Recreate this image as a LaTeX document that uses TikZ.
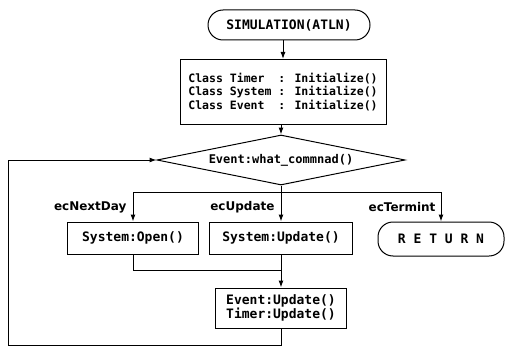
\documentclass[tikz,border=0pt]{standalone}
\usepackage{fontspec}
\setmainfont{DejaVu Sans Mono}
\newfontfamily\lblfont{DejaVu Sans}
\usetikzlibrary{shapes.geometric,arrows.meta}

\begin{document}
\begin{tikzpicture}[
    x=1pt, y=-1pt,
    every node/.style={font=\bfseries\fontsize{13}{15}\selectfont},
    procbox/.style={draw, line width=1pt, inner sep=0pt},
    termbox/.style={draw, line width=1pt, inner sep=0pt, rounded corners=15pt},
    decbox/.style={draw, line width=1pt, diamond, aspect=5, inner sep=0pt},
    flow/.style={line width=1pt, -{Latex[length=7pt,width=5pt]}},
    link/.style={line width=1pt},
    brlabel/.style={anchor=east, font=\lblfont\bfseries\fontsize{12}{14}\selectfont},
]
\useasboundingbox (0,0) rectangle (505,350);

% nodes
\node[termbox, minimum width=162pt, minimum height=30pt] (start) at (289,25) {SIMULATION(ATLN)};
\node[procbox, minimum width=206pt, minimum height=65pt, align=left,
      font=\bfseries\fontsize{11.5}{13.5}\selectfont] (init) at (283,92)
    {Class Timer~~: Initialize()\\Class System : Initialize()\\Class Event~~: Initialize()};
\node[decbox, minimum width=248pt, minimum height=50pt,
      font=\bfseries\fontsize{12}{14}\selectfont] (dec) at (281,160) {Event:what\_commnad()};
\node[procbox, minimum width=131pt, minimum height=32pt] (openbox) at (133,238) {System:Open()};
\node[procbox, minimum width=143pt, minimum height=32pt] (updbox) at (281,238) {System:Update()};
\node[termbox, minimum width=126pt, minimum height=34pt] (retbox) at (441,239) {R~E~T~U~R~N};
\node[procbox, minimum width=131pt, minimum height=40pt, align=center,
      font=\bfseries\fontsize{13}{14}\selectfont] (evbox) at (281,308) {Event:Update()\\Timer:Update()};

% branch labels
\node[brlabel] (lblnext) at (130,207) {ecNextDay};
\node[brlabel] (lblupd) at (278,207) {ecUpdate};
\node[brlabel] (lblterm) at (439,207) {ecTermint};

% connectors
\path (dec.south) ++(0,7) coordinate (fork);
\path (updbox.south) ++(0,16) coordinate (join);
\path (evbox.south) ++(0,17) coordinate (loopa);
\coordinate (loopb) at (loopa -| 8,0);

\draw[flow] (start.south -| init) -- (init.north);
\draw[flow] (init.south -| dec) -- (dec.north);
\draw[flow] (dec) -- (updbox);
\draw[flow] (fork) -| (openbox);
\draw[flow] (fork) -| (retbox);
\draw[link] (openbox) |- (join);
\draw[flow] (updbox) -- (evbox);
\draw[flow] (evbox) -- (loopa) -- (loopb) |- (dec.west);
\end{tikzpicture}
\end{document}
